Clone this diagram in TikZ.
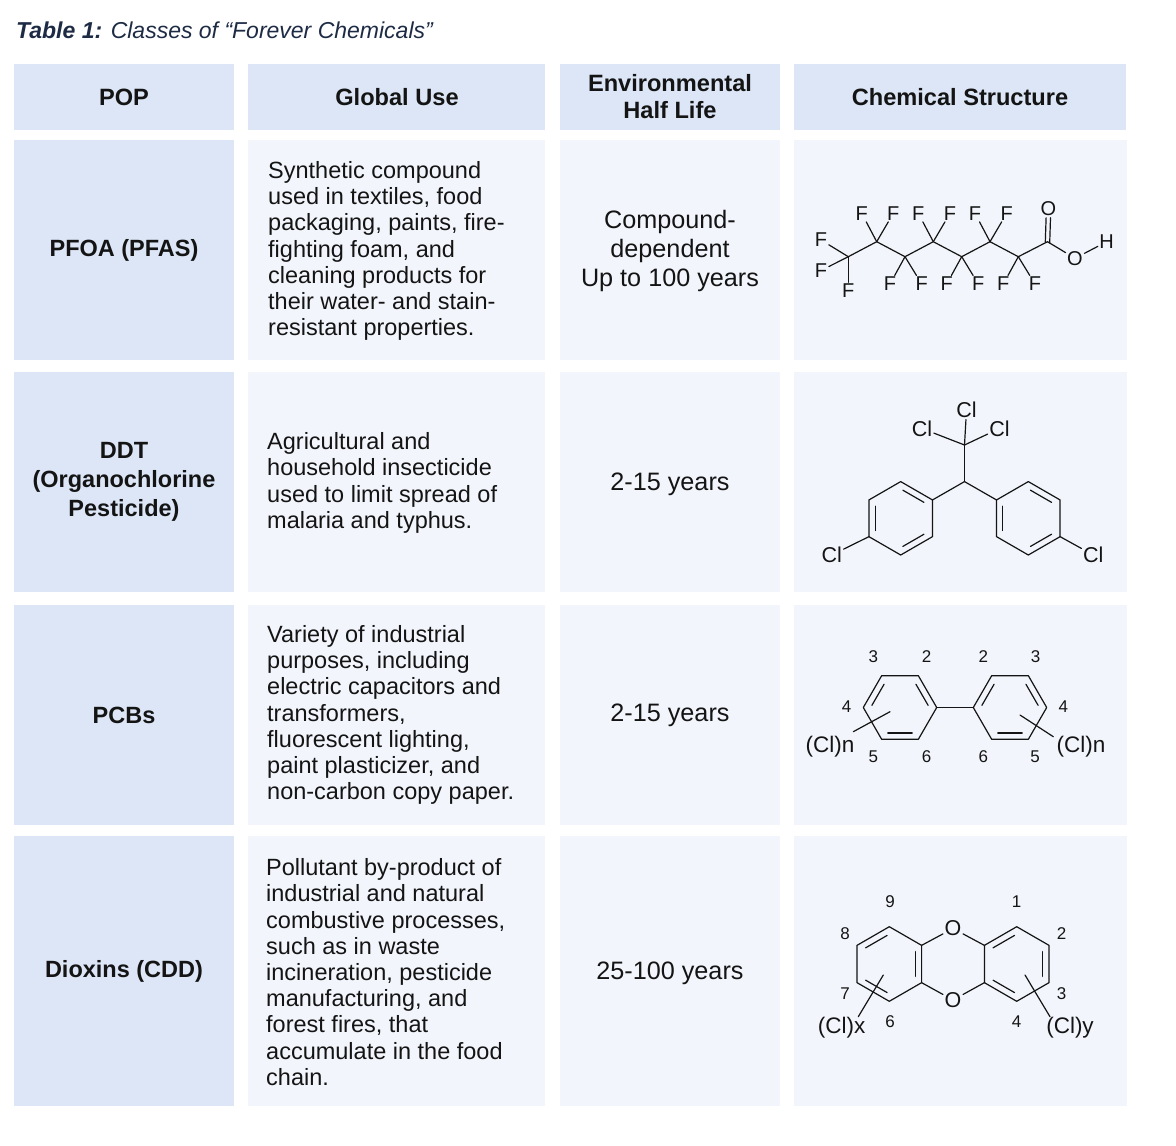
\documentclass[tikz,border=0pt]{standalone}
\usepackage{fontspec}
\setmainfont{Liberation Sans}
\usetikzlibrary{calc}
\definecolor{hdr}{HTML}{DCE6F6}
\definecolor{cellbg}{HTML}{F2F5FB}
\definecolor{navy}{HTML}{1E2B45}
\definecolor{ink}{HTML}{141414}

\newcommand\defpointyhex[4]{%
  \coordinate (#1) at (#2,#3);
  \coordinate (#1-t)  at ($(#1)+(0,-#4)$);
  \coordinate (#1-ur) at ($(#1)+(0.8660*#4,-0.5*#4)$);
  \coordinate (#1-lr) at ($(#1)+(0.8660*#4,0.5*#4)$);
  \coordinate (#1-b)  at ($(#1)+(0,#4)$);
  \coordinate (#1-ll) at ($(#1)+(-0.8660*#4,0.5*#4)$);
  \coordinate (#1-ul) at ($(#1)+(-0.8660*#4,-0.5*#4)$);
  \draw[bond] (#1-t) -- (#1-ur) -- (#1-lr) -- (#1-b) -- (#1-ll) -- (#1-ul) -- cycle;
}
\newcommand\defflathex[4]{%
  \coordinate (#1) at (#2,#3);
  \coordinate (#1-l)  at ($(#1)+(-#4,0)$);
  \coordinate (#1-tl) at ($(#1)+(-0.5*#4,-0.8660*#4)$);
  \coordinate (#1-tr) at ($(#1)+(0.5*#4,-0.8660*#4)$);
  \coordinate (#1-r)  at ($(#1)+(#4,0)$);
  \coordinate (#1-br) at ($(#1)+(0.5*#4,0.8660*#4)$);
  \coordinate (#1-bl) at ($(#1)+(-0.5*#4,0.8660*#4)$);
  \draw[bond] (#1-l) -- (#1-tl) -- (#1-tr) -- (#1-r) -- (#1-br) -- (#1-bl) -- cycle;
}
\newcommand\dbl[3]{\draw[bond,shorten >=2.5pt,shorten <=2.5pt] ($(#1)!0.8!(#2)$) -- ($(#1)!0.8!(#3)$);}

\tikzset{
  headtxt/.style={font=\fontsize{23.6}{27}\selectfont\bfseries, align=center, inner sep=0pt, text=ink},
  poptxt/.style={font=\fontsize{23.5}{29}\selectfont\bfseries, align=center, inner sep=0pt, text=ink},
  usetxt/.style={font=\fontsize{23.5}{26.2}\selectfont, align=left, anchor=west, inner sep=0pt, text=ink},
  lifetxt/.style={font=\fontsize{25.2}{29}\selectfont, align=center, inner sep=0pt, text=ink},
  bond/.style={line width=1.2pt, draw=ink, line cap=round, line join=round},
  atom/.style={font=\fontsize{20}{20}\selectfont, inner sep=1.5pt, text=ink},
  bigatom/.style={font=\fontsize{21.5}{21.5}\selectfont, inner sep=1.5pt, text=ink},
  subst/.style={font=\fontsize{22.5}{22.5}\selectfont, inner sep=0pt, text=ink},
  numlbl/.style={font=\fontsize{17}{17}\selectfont, inner sep=0pt, text=ink},
}

\begin{document}
\begin{tikzpicture}[x=1pt,y=-1pt]
\useasboundingbox (0,0) rectangle (1176,1146);
\fill[white] (0,0) rectangle (1176,1146);

% title
\node[anchor=west, inner sep=0pt, text=navy, font=\fontsize{23}{27}\selectfont] (title) at (16,30)
  {{\bfseries\itshape Table 1:} \itshape Classes of “Forever Chemicals”};

% header cells
\fill[hdr] (14,64) rectangle (234,130);
\fill[hdr] (248,64) rectangle (545,130);
\fill[hdr] (560,64) rectangle (780,130);
\fill[hdr] (794,64) rectangle (1126,130);
% body rows
\foreach \ya/\yb in {140/360, 372/592, 605/825, 836/1106}{
  \fill[hdr] (14,\ya) rectangle (234,\yb);
  \fill[cellbg] (248,\ya) rectangle (545,\yb);
  \fill[cellbg] (560,\ya) rectangle (780,\yb);
  \fill[cellbg] (794,\ya) rectangle (1127,\yb);
}

% header texts
\node[headtxt] (hpop) at (124,97) {POP};
\node[headtxt] (huse) at (397,97) {Global Use};
\node[headtxt] (hlife) at (670,97) {Environmental\\Half Life};
\node[headtxt] (hchem) at (960,97) {Chemical Structure};

% POP column
\node[poptxt] (pop1) at (124,250) {PFOA (PFAS)};
\node[poptxt] (pop2) at (124,482) {DDT\\(Organochlorine\\Pesticide)};
\node[poptxt] (pop3) at (124,715) {PCBs};
\node[poptxt] (pop4) at (124,971) {Dioxins (CDD)};

% Global use column
\node[usetxt] (use1) at (268,251) {Synthetic compound\\used in textiles, food\\packaging, paints, fire-\\fighting foam, and\\cleaning products for\\their water- and stain-\\resistant properties.};
\node[usetxt] (use2) at (267,483) {Agricultural and\\household insecticide\\used to limit spread of\\malaria and typhus.};
\node[usetxt] (use3) at (267,715) {Variety of industrial\\purposes, including\\electric capacitors and\\transformers,\\fluorescent lighting,\\paint plasticizer, and\\non-carbon copy paper.};
\node[usetxt] (use4) at (266,972) {Pollutant by-product of\\industrial and natural\\combustive processes,\\such as in waste\\incineration, pesticide\\manufacturing, and\\forest fires, that\\accumulate in the food\\chain.};

% half life column
\node[lifetxt] (life1) at (670,251) {Compound-\\dependent\\Up to 100 years};
\node[lifetxt] (life2) at (670,484) {2-15 years};
\node[lifetxt] (life3) at (670,715) {2-15 years};
\node[lifetxt] (life4) at (670,973) {25-100 years};

% ================= PFOA =================
\coordinate (p1) at (848.3,256.7);
\coordinate (p2) at (876.7,241.7);
\coordinate (p3) at (905,256.7);
\coordinate (p4) at (933.3,241.7);
\coordinate (p5) at (961.7,256.7);
\coordinate (p6) at (990,241.7);
\coordinate (p7) at (1018.3,256.7);
\coordinate (p8) at (1047.5,241.7);
\draw[bond] (p1) -- (p2) -- (p3) -- (p4) -- (p5) -- (p6) -- (p7) -- (p8);
\node[atom] (f1a) at (821,240) {F};
\node[atom] (f1b) at (821,270.5) {F};
\node[atom] (f1c) at (848.3,291) {F};
\node[atom] (f2a) at (861.7,213.3) {F};
\node[atom] (f2b) at (893.3,213.3) {F};
\node[atom] (f3a) at (890,284) {F};
\node[atom] (f3b) at (921.7,284) {F};
\node[atom] (f4a) at (918.3,213.3) {F};
\node[atom] (f4b) at (950,213.3) {F};
\node[atom] (f5a) at (946.7,284) {F};
\node[atom] (f5b) at (978.3,284) {F};
\node[atom] (f6a) at (975,213.3) {F};
\node[atom] (f6b) at (1006.7,213.3) {F};
\node[atom] (f7a) at (1003.3,284) {F};
\node[atom] (f7b) at (1035,284) {F};
\foreach \c/\f in {p1/f1a,p1/f1b,p1/f1c,p2/f2a,p2/f2b,p3/f3a,p3/f3b,p4/f4a,p4/f4b,p5/f5a,p5/f5b,p6/f6a,p6/f6b,p7/f7a,p7/f7b}
  \draw[bond] (\c) -- (\f);
\node[atom] (o1) at (1048.3,209) {O};
\node[atom] (o2) at (1075,258.3) {O};
\node[atom] (h1) at (1106.7,241.7) {H};
\draw[bond] ($(p8)+(-2.2,0)$) -- ($(o1.south)+(-2.2,0)$);
\draw[bond] ($(p8)+(2.2,1.2)$) -- ($(o1.south)+(2.2,0)$);
\draw[bond] (p8) -- (o2);
\draw[bond] (o2) -- (h1);

% ================= DDT =================
\defpointyhex{dl}{900.7}{518.3}{36.7}
\defpointyhex{dr}{1028.3}{518.3}{36.7}
\dbl{dl}{dl-t}{dl-ur}\dbl{dl}{dl-lr}{dl-b}\dbl{dl}{dl-ll}{dl-ul}
\dbl{dr}{dr-t}{dr-ur}\dbl{dr}{dr-lr}{dr-b}\dbl{dr}{dr-ll}{dr-ul}
\coordinate (ch) at (964.5,481.6);
\coordinate (cc) at (964.5,445);
\draw[bond] (dl-ur) -- (ch) -- (dr-ul);
\draw[bond] (ch) -- (cc);
\node[bigatom] (cl1) at (966.5,410) {Cl};
\node[bigatom] (cl2) at (922,428.5) {Cl};
\node[bigatom] (cl3) at (999.5,428.5) {Cl};
\node[bigatom] (cl4) at (831.7,555) {Cl};
\node[bigatom] (cl5) at (1093.3,555) {Cl};
\draw[bond] (cc) -- (cl1);
\draw[bond] (cc) -- (cl2);
\draw[bond] (cc) -- (cl3);
\draw[bond] (dl-ll) -- (cl4);
\draw[bond] (dr-lr) -- (cl5);

% ================= PCBs =================
\defflathex{qa}{900}{707.5}{36.7}
\defflathex{qb}{1010}{707.5}{36.7}
\dbl{qa}{qa-l}{qa-tl}\dbl{qa}{qa-tr}{qa-r}\dbl{qa}{qa-br}{qa-bl}
\dbl{qb}{qb-l}{qb-tl}\dbl{qb}{qb-tr}{qb-r}\dbl{qb}{qb-br}{qb-bl}
\draw[bond] (qa-r) -- (qb-l);
\coordinate (sa1) at (890,711.7);
\coordinate (sa2) at (853.3,731.7);
\coordinate (sb1) at (1020,715);
\coordinate (sb2) at (1053.3,736.7);
\draw[bond] (sa1) -- (sa2);
\draw[bond] (sb1) -- (sb2);
\node[subst] (cln1) at (830,746.7) {(Cl)n};
\node[subst] (cln2) at (1081,746.7) {(Cl)n};
\node[numlbl] (n3a) at (873.3,656.7) {3};
\node[numlbl] (n2a) at (926.7,656.7) {2};
\node[numlbl] (n2b) at (983.3,656.7) {2};
\node[numlbl] (n3b) at (1035.7,656.7) {3};
\node[numlbl] (n4a) at (846.7,706.7) {4};
\node[numlbl] (n4b) at (1063.3,706.7) {4};
\node[numlbl] (n5a) at (873.3,756.7) {5};
\node[numlbl] (n6a) at (926.7,756.7) {6};
\node[numlbl] (n6b) at (983.3,756.7) {6};
\node[numlbl] (n5b) at (1035,756.7) {5};

% ================= Dioxins =================
\defpointyhex{xa}{889.3}{964}{37.3}
\defpointyhex{xb}{1016.7}{964}{37.3}
\dbl{xa}{xa-ul}{xa-t}\dbl{xa}{xa-ur}{xa-lr}\dbl{xa}{xa-b}{xa-ll}
\dbl{xb}{xb-ul}{xb-t}\dbl{xb}{xb-ur}{xb-lr}\dbl{xb}{xb-b}{xb-ll}
\node[bigatom] (ot) at (953,928.5) {O};
\node[bigatom] (ob) at (953,1000) {O};
\draw[bond] (xa-ur) -- (ot) -- (xb-ul);
\draw[bond] (xa-lr) -- (ob) -- (xb-ll);
\coordinate (xs1) at (883.3,975);
\coordinate (xs2) at (858.3,1016.7);
\coordinate (ys1) at (1025,975);
\coordinate (ys2) at (1050,1016.7);
\draw[bond] (xs1) -- (xs2);
\draw[bond] (ys1) -- (ys2);
\node[subst] (clx) at (841.7,1028) {(Cl)x};
\node[subst] (cly) at (1070,1028) {(Cl)y};
\node[numlbl] (d9) at (890,901.7) {9};
\node[numlbl] (d1) at (1016.7,901.7) {1};
\node[numlbl] (d8) at (845,933.3) {8};
\node[numlbl] (d2) at (1061.7,933.3) {2};
\node[numlbl] (d7) at (845,993.3) {7};
\node[numlbl] (d3) at (1061.7,993.3) {3};
\node[numlbl] (d6) at (890,1021.7) {6};
\node[numlbl] (d4) at (1016.7,1021.7) {4};
\end{tikzpicture}
\end{document}
